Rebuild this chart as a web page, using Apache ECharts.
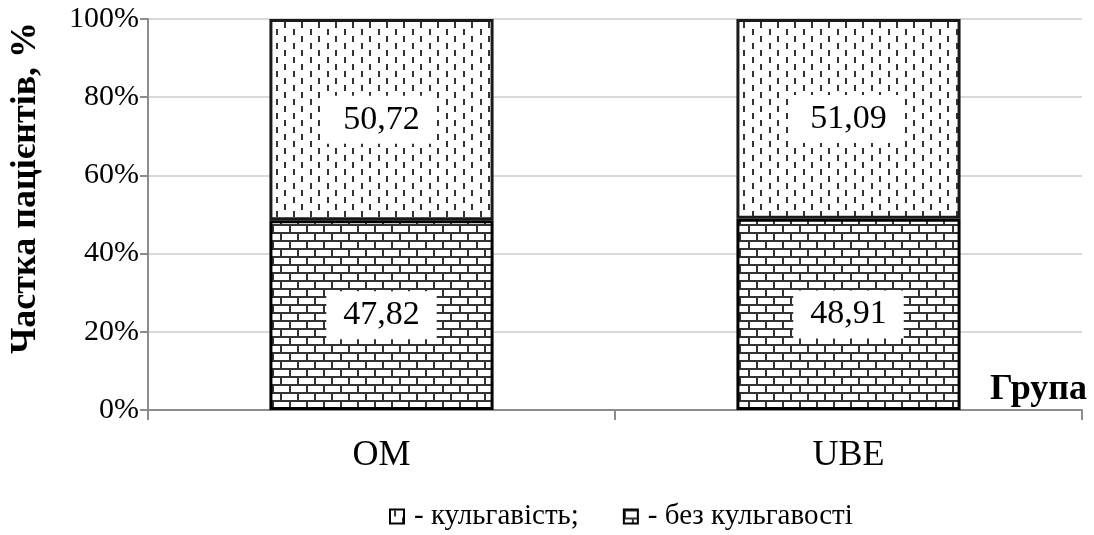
<!DOCTYPE html>
<html>
<head>
<meta charset="utf-8">
<script src="https://cdn.jsdelivr.net/npm/echarts@6/dist/echarts.min.js"></script>
<style>
html,body{margin:0;padding:0;background:#fff;}
#c{width:1094px;height:535px;}
</style>
</head>
<body>
<div id="c"></div>
<script>
const categories = ['OM', 'UBE'];
const lameValues = [50.72, 51.09];
const noLameValues = [47.82, 48.91];
const yTicks = [0, 20, 40, 60, 80, 100];
const seriesNames = ['кульгавість;', 'без кульгавості'];
const yAxisTitle = 'Частка пацієнтів, %';
const xAxisTitle = 'Група';

const FONT = '"Liberation Serif", "Times New Roman", serif';

function brickPattern() {
  const c = document.createElement('canvas');
  c.width = 17; c.height = 16;
  const g = c.getContext('2d');
  g.fillStyle = '#fff'; g.fillRect(0, 0, 17, 16);
  g.fillStyle = '#333';
  g.fillRect(0, 0, 17, 2);
  g.fillRect(0, 8, 17, 2);
  g.fillRect(0, 0, 2, 8);
  g.fillRect(8, 8, 2, 8);
  return c;
}
function dashPattern() {
  const c = document.createElement('canvas');
  c.width = 17; c.height = 14;
  const g = c.getContext('2d');
  g.fillStyle = '#fff'; g.fillRect(0, 0, 17, 14);
  g.fillStyle = '#333';
  g.fillRect(4, 1, 2, 6);
  g.fillRect(12, 8, 2, 6);
  return c;
}

const totals = categories.map((_, i) => lameValues[i] + noLameValues[i]);
const fmt = v => v.toFixed(2).replace('.', ',');

const labelStyle = (arr) => ({
  show: true,
  position: 'inside',
  fontFamily: FONT,
  fontSize: 34,
  color: '#000',
  backgroundColor: '#fff',
  padding: [8, 17, 6, 17],
  formatter: p => fmt(arr[p.dataIndex])
});

const chart = echarts.init(document.getElementById('c'), null, {renderer: 'canvas'});
chart.setOption({
  animation: false,
  backgroundColor: '#fff',
  textStyle: {fontFamily: FONT},
  grid: {left: 148, right: 12, top: 19, bottom: 125, containLabel: false, outerBoundsMode: 'none'},
  legend: {
    data: [seriesNames[0], seriesNames[1]],
    left: 384,
    top: 497,
    icon: 'rect',
    itemWidth: 14,
    itemHeight: 14,
    itemGap: 44,
    formatter: n => '- ' + n,
    textStyle: {fontFamily: FONT, fontSize: 29, color: '#000', padding: [0, 0, 0, 5]},
    itemStyle: {borderColor: '#000', borderWidth: 2}
  },
  xAxis: {
    type: 'category',
    data: categories,
    axisLine: {lineStyle: {color: '#8c8c8c', width: 2}},
    axisTick: {show: true, length: 10, lineStyle: {color: '#8c8c8c', width: 2}},
    axisLabel: {fontFamily: FONT, fontSize: 36, color: '#000', margin: 28}
  },
  yAxis: {
    type: 'value',
    min: 0, max: 100, interval: 20,
    axisLine: {show: true, lineStyle: {color: '#8c8c8c', width: 2}},
    axisTick: {show: true, length: 8, lineStyle: {color: '#8c8c8c', width: 2}},
    axisLabel: {fontFamily: FONT, fontSize: 30, color: '#000', margin: 9,
      formatter: v => yTicks.includes(v) ? v + '%' : ''},
    splitLine: {lineStyle: {color: '#d9d9d9', width: 2}}
  },
  graphic: [
    {
      type: 'text',
      x: 26,
      y: 188,
      rotation: Math.PI / 2,
      style: {text: yAxisTitle, font: 'bold 36px ' + FONT, fill: '#000', align: 'center', verticalAlign: 'middle'}
    },
    {
      type: 'text',
      left: 990,
      top: 372,
      style: {text: xAxisTitle, font: 'bold 36px ' + FONT, fill: '#000'}
    }
  ],
  series: [
    {
      name: seriesNames[1],
      type: 'bar',
      stack: 'total',
      barWidth: '48%',
      data: noLameValues.map((v, i) => v / totals[i] * 100),
      itemStyle: {color: {image: brickPattern(), repeat: 'repeat'}, borderColor: '#000', borderWidth: 3},
      label: labelStyle(noLameValues)
    },
    {
      name: seriesNames[0],
      type: 'bar',
      stack: 'total',
      barWidth: '48%',
      data: lameValues.map((v, i) => v / totals[i] * 100),
      itemStyle: {color: {image: dashPattern(), repeat: 'repeat'}, borderColor: '#1a1a1a', borderWidth: 3},
      label: labelStyle(lameValues)
    }
  ]
});
</script>
</body>
</html>
